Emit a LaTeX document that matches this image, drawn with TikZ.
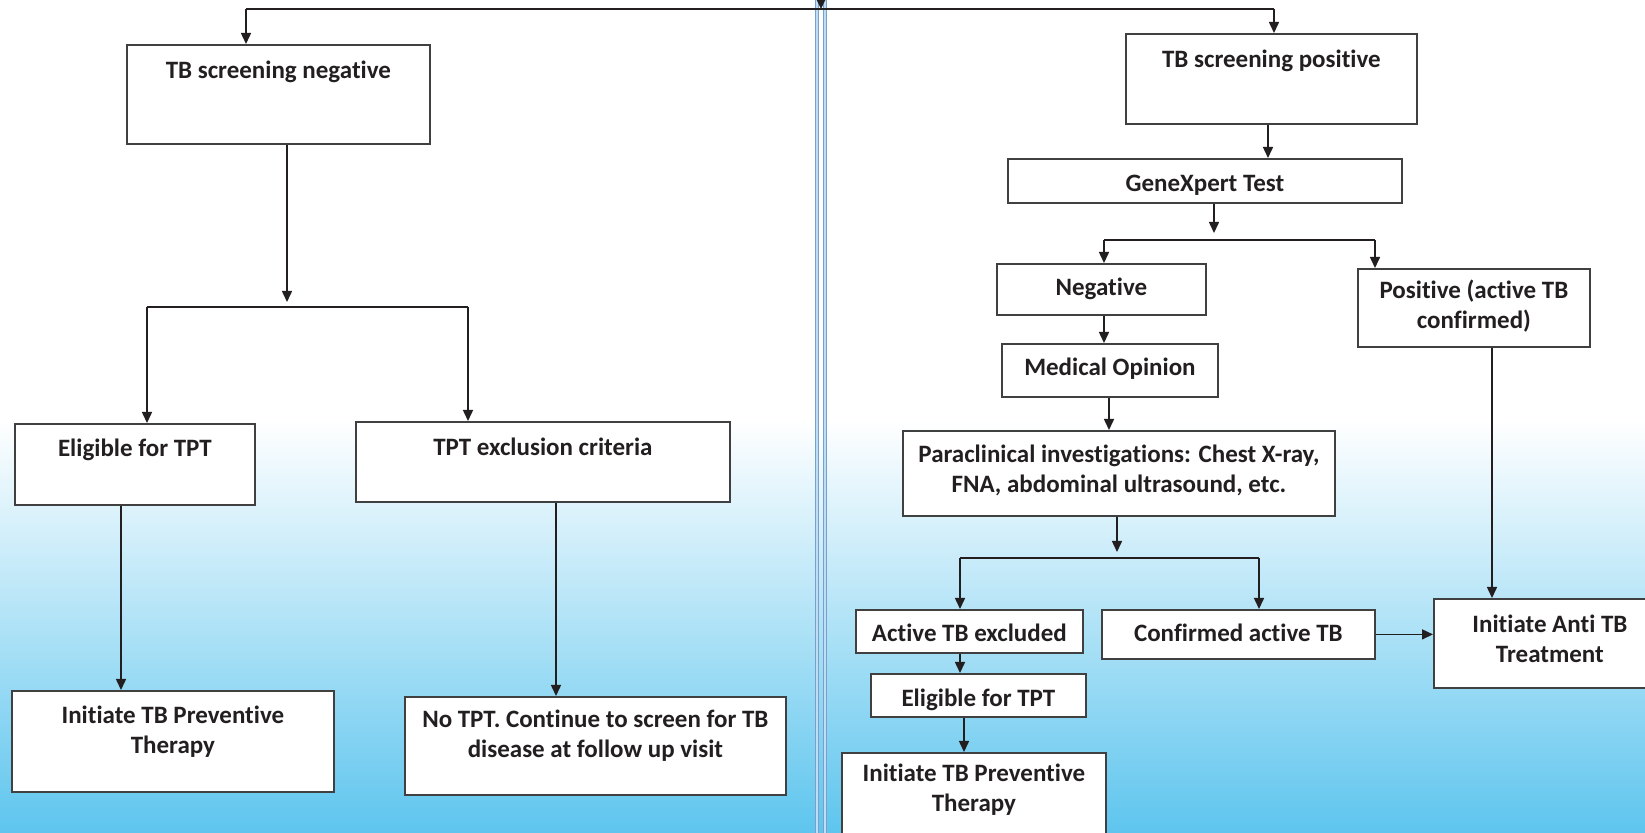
\documentclass[tikz,border=0pt]{standalone}
\usepackage{fontspec}
\setmainfont{Carlito}[Ligatures=NoCommon]
\usetikzlibrary{arrows.meta,calc}
\definecolor{bgblue}{RGB}{94,197,238}
\definecolor{bgmid}{RGB}{205,237,250}
\definecolor{edge}{RGB}{64,64,64}
\definecolor{ink}{RGB}{35,31,32}
\definecolor{divout}{RGB}{120,160,200}
\definecolor{divin}{RGB}{190,222,245}
\begin{document}
\begin{tikzpicture}[x=0.5pt,y=-0.5pt,
  box/.style={draw=edge, line width=0.9pt, fill=white, text=ink,
    font=\fontsize{12.5}{15}\selectfont\bfseries, align=center,
    inner sep=0pt, anchor=north west},
  bx/.style n args={3}{box, minimum width=#1, text height=#2, text depth=#3},
  conn/.style={draw=ink, line width=0.75pt},
  arr/.style={conn, -{Triangle[length=5.5pt,width=5pt]}},
  divo/.style={draw=divout, line width=2pt},
  divi/.style={draw=divin, line width=0.8pt},
]
\useasboundingbox (0,0) rectangle (1645,833);
\fill[white] (0,0) rectangle (1645,833);
\shade[top color=white, middle color=bgmid, bottom color=bgblue] (0,420) rectangle (1645,833);

% divider
\draw[divo] (817,0) -- (817,833);
\draw[divi] (817,0) -- (817,833);
\draw[divo] (825,0) -- (825,833);
\draw[divi] (825,0) -- (825,833);

% left side
\node[bx={151.5pt}{17pt}{32.5pt}] (neg) at (126,44) {TB screening negative};
\node[bx={120pt}{16.5pt}{24pt}] (elL) at (14,423) {Eligible for TPT};
\node[bx={187pt}{17pt}{23pt}] (excl) at (355,421) {TPT exclusion criteria};
\node[bx={161pt}{31.5pt}{19pt}] (iniL) at (11,690) {Initiate TB Preventive\\Therapy};
\node[bx={190.5pt}{30.5pt}{18.5pt}] (notpt) at (404,696) {No TPT. Continue to screen for TB\\disease at follow up visit};

% right side
\node[bx={145.5pt}{17pt}{28pt}] (pos) at (1125,33) {TB screening positive};
\node[bx={197pt}{16.25pt}{5.75pt}] (gx) at (1007,158) {GeneXpert Test};
\node[bx={104.5pt}{16pt}{9.5pt}] (neg2) at (996,263) {Negative};
\node[bx={116pt}{30pt}{9pt}] (posA) at (1357,268) {Positive (active TB\\confirmed)};
\node[bx={108pt}{16pt}{10.5pt}] (med) at (1001,343) {Medical Opinion};
\node[bx={216pt}{30.85pt}{11.65pt}] (para) at (902,430) {Paraclinical investigations: Chest X-ray,\\FNA, abdominal ultrasound, etc.};
\node[bx={113.5pt}{16pt}{5.5pt}] (atbx) at (855,609) {Active TB excluded};
\node[bx={136.5pt}{16pt}{8.5pt}] (conf) at (1101,609) {Confirmed active TB};
\node[bx={107.5pt}{16.3pt}{5.2pt}] (elR) at (870,673) {Eligible for TPT};
\node[bx={132pt}{29.5pt}{19.5pt}] (iniR) at (841,752) {Initiate TB Preventive\\Therapy};
\node[bx={116pt}{31.85pt}{12.65pt}] (anti) at (1433,598) {Initiate Anti TB\\Treatment};

% top connectors
\coordinate (ttop) at (821,0);
\coordinate (tjoin) at (821,9);
\coordinate (tl) at (246,9);
\coordinate (tr) at (1274,9);
\draw[conn] (tl) -- (tr);
\draw[arr] (ttop) -- (tjoin);
\draw[arr] (tl) -- (tl |- neg.north);
\draw[arr] (tr) -- (tr |- pos.north);

% left connectors
\coordinate (nb) at (287,302);
\coordinate (lb1) at (147,307);
\coordinate (lb2) at (468,307);
\coordinate (c1) at (121,0);
\coordinate (c2) at (556,0);
\draw[arr] (nb |- neg.south) -- (nb);
\draw[conn] (lb1) -- (lb2);
\draw[arr] (lb1) -- (lb1 |- elL.north);
\draw[arr] (lb2) -- (lb2 |- excl.north);
\draw[arr] (c1 |- elL.south) -- (c1 |- iniL.north);
\draw[arr] (c2 |- excl.south) -- (c2 |- notpt.north);

% right connectors
\coordinate (c3) at (1268,0);
\coordinate (gb) at (1214,233);
\coordinate (rb1) at (1104,240);
\coordinate (rb2) at (1375,240);
\coordinate (c4) at (1109,0);
\coordinate (pb) at (1117,552);
\coordinate (pb1) at (960,558);
\coordinate (pb2) at (1259,558);
\coordinate (c5) at (964,0);
\coordinate (c6) at (1492,0);
\draw[arr] (c3 |- pos.south) -- (c3 |- gx.north);
\draw[arr] (gb |- gx.south) -- (gb);
\draw[conn] (rb1) -- (rb2);
\draw[arr] (rb1) -- (rb1 |- neg2.north);
\draw[arr] (rb2) -- (rb2 |- posA.north);
\draw[arr] (rb1 |- neg2.south) -- (rb1 |- med.north);
\draw[arr] (c4 |- med.south) -- (c4 |- para.north);
\draw[arr] (pb |- para.south) -- (pb);
\draw[conn] (pb1) -- (pb2);
\draw[arr] (pb1) -- (pb1 |- atbx.north);
\draw[arr] (pb2) -- (pb2 |- conf.north);
\draw[arr] (pb1 |- atbx.south) -- (pb1 |- elR.north);
\draw[arr] (c5 |- elR.south) -- (c5 |- iniR.north);
\draw[arr] (conf.east) -- (conf.east -| anti.west);
\draw[arr] (c6 |- posA.south) -- (c6 |- anti.north);
\end{tikzpicture}
\end{document}
